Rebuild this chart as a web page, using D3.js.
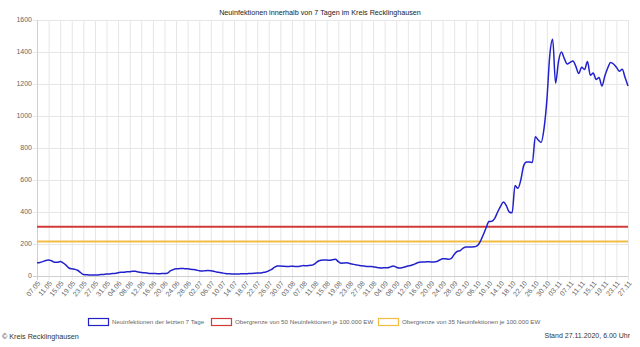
<!DOCTYPE html>
<html><head><meta charset="utf-8">
<script src="https://cdn.jsdelivr.net/npm/d3@7"></script>
<style>
html,body{margin:0;padding:0;background:#fff;}
svg{display:block;font-family:"Liberation Sans",Arial,sans-serif;}
</style></head>
<body>
<svg id="c" width="640" height="347"></svg>
<script>
const title = "Neuinfektionen innerhalb von 7 Tagen im Kreis Recklinghausen";
const startDate = "2020-05-07";
const cases7 = [
83,85,90,97,100,95,86,86,90,82,68,50,45,42,36,22,9,8,7,6,
6,7,9,10,12,13,15,16,20,24,24,26,27,30,29,25,22,20,18,16,
15,15,14,15,15,17,32,40,45,46,47,46,45,42,40,37,33,31,33,34,
33,30,25,22,19,16,14,13,12,12,13,14,14,15,16,17,18,19,22,25,
33,42,55,62,62,61,60,60,61,60,60,62,65,64,66,68,78,92,98,100,
100,98,102,104,90,80,82,83,78,74,70,67,64,62,60,59,58,55,51,50,
52,52,57,62,55,50,52,56,63,66,72,80,86,88,88,89,88,88,90,100,
108,108,104,110,135,153,158,172,182,182,182,183,190,215,256,300,340,342,360,400,
435,462,440,400,395,565,548,600,690,712,712,710,870,850,835,920,1100,1380,1480,1205,
1340,1400,1360,1325,1335,1344,1310,1265,1305,1290,1340,1255,1268,1228,1240,1188,1250,1300,1335,1325,
1305,1280,1292,1240,1188
];
const limit50 = 307.5;
const limit35 = 215.3;
const yTicks = [0,200,400,600,800,1000,1200,1400,1600];
const legendLabels = ["Neuinfektionen der letzten 7 Tage","Obergrenze von 50 Neuinfektionen je 100.000 EW","Obergrenze von 35 Neuinfektionen je 100.000 EW"];
const footerLeft = "© Kreis Recklinghausen";
const footerRight = "Stand 27.11.2020, 6.00 Uhr";

const fmt = d3.timeFormat("%d.%m");
const d0 = d3.timeParse("%Y-%m-%d")(startDate);
const dates = cases7.map((v,i)=>fmt(d3.timeDay.offset(d0,i)));

const svg = d3.select("#c");
const L=37,R=628,T=20,B=276;
const x = d3.scalePoint().domain(dates).range([L,R]);
const y = d3.scaleLinear().domain([0,1600]).range([B,T]);
const shown = dates.filter((d,i)=>i%4===0);

// grid
const g = svg.append("g");
g.selectAll(".vg").data(shown).enter().append("line")
 .attr("x1",d=>x(d)+0.5).attr("x2",d=>x(d)+0.5).attr("y1",T).attr("y2",B+4)
 .attr("stroke","#e6e6e6").attr("stroke-width",1);
g.selectAll(".hg").data(yTicks).enter().append("line")
 .attr("x1",L-4).attr("x2",R).attr("y1",d=>Math.round(y(d))+0.5).attr("y2",d=>Math.round(y(d))+0.5)
 .attr("stroke",d=>d===0?"#cfcfcf":"#e6e6e6").attr("stroke-width",1);
g.append("line").attr("x1",L+0.5).attr("x2",L+0.5).attr("y1",T).attr("y2",B+4).attr("stroke","#cfcfcf");

// y labels
svg.selectAll(".yl").data(yTicks).enter().append("text")
 .attr("x",L-5).attr("y",d=>y(d)).attr("dy","0.35em").attr("text-anchor","end")
 .attr("font-size","7px").attr("fill","#666").text(d=>d);

// x labels
svg.selectAll(".xl").data(shown).enter().append("text")
 .attr("transform",d=>`translate(${x(d)+2},${B+6}) rotate(-50)`)
 .attr("text-anchor","end").attr("dy","0.35em")
 .attr("font-size","7px").attr("fill","#666").text(d=>d);

// threshold lines
const constLine = v => d3.line().x(d=>x(d)).y(()=>y(v));
svg.append("path").datum(dates).attr("d",constLine(limit50)).attr("fill","none").attr("stroke","#d23a3a").attr("stroke-width",2);
svg.append("path").datum(dates).attr("d",constLine(limit35)).attr("fill","none").attr("stroke","#f2bd42").attr("stroke-width",2);

// main line
const line = d3.line().x((d,i)=>x(dates[i])).y(d=>y(d)).curve(d3.curveMonotoneX);
svg.append("path").datum(cases7).attr("d",line).attr("fill","none").attr("stroke","#2222cc").attr("stroke-width",1.5);

// title
svg.append("text").attr("x",320).attr("y",15).attr("text-anchor","middle")
 .attr("font-size","7.2px").attr("fill","#222").text(title);

// legend
const legColors = ["#2222cc","#d23a3a","#f2bd42"];
const legX = [88,211,378];
legendLabels.forEach((t,i)=>{
  svg.append("rect").attr("x",legX[i]+0.5).attr("y",318.5).attr("width",20).attr("height",7)
    .attr("fill","#fff").attr("stroke",legColors[i]).attr("stroke-width",1.2);
  svg.append("text").attr("x",legX[i]+24).attr("y",322).attr("dy","0.35em")
    .attr("font-size","6.2px").attr("fill","#666").text(t);
});

// footer
svg.append("text").attr("x",2).attr("y",336).attr("dy","0.35em").attr("font-size","7.2px").attr("fill","#333").text(footerLeft);
svg.append("text").attr("x",630).attr("y",336).attr("dy","0.35em").attr("text-anchor","end").attr("font-size","7px").attr("fill","#333").text(footerRight);
</script>
</body></html>
